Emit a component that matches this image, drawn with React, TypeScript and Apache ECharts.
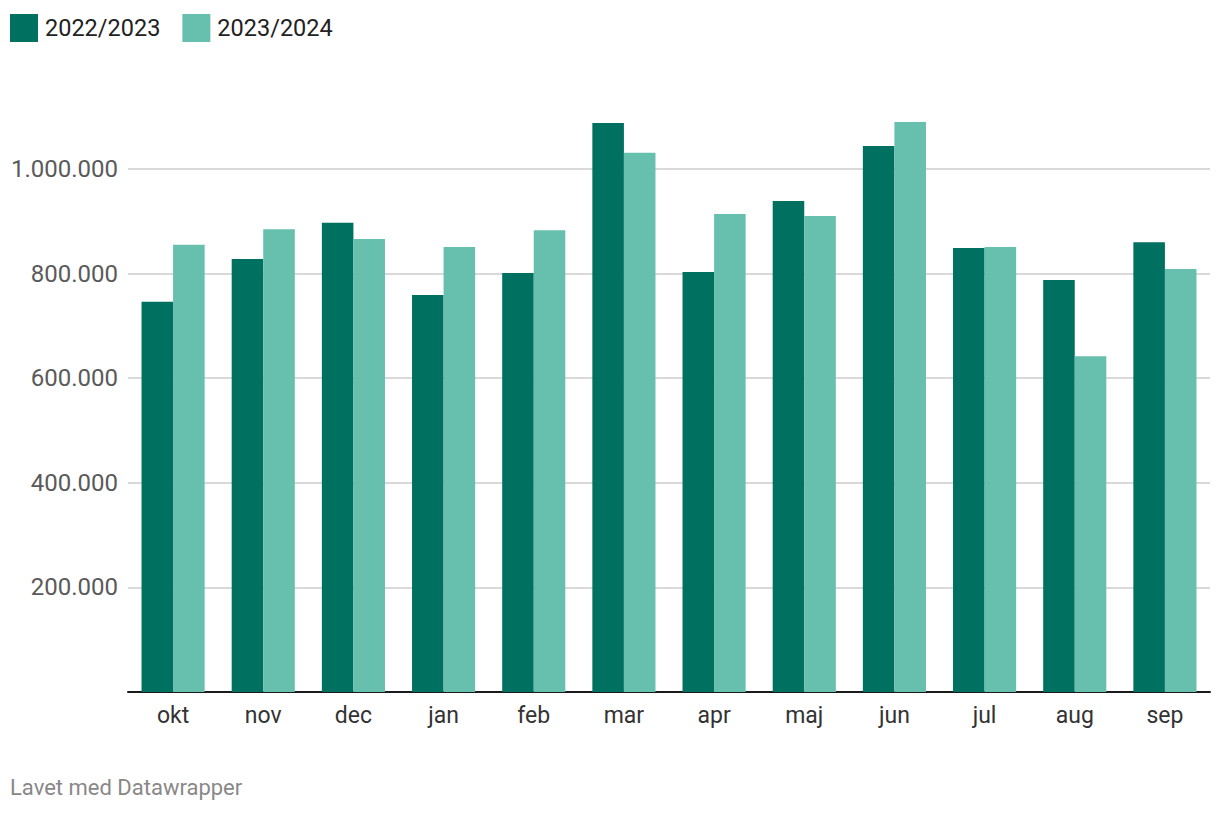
import React, { useEffect, useRef } from "react";
import * as echarts from "echarts";

const categories = ["okt", "nov", "dec", "jan", "feb", "mar", "apr", "maj", "jun", "jul", "aug", "sep"];
const series2022 = [746000, 828000, 897000, 759000, 801000, 1088000, 803000, 939000, 1044000, 849000, 788000, 860000];
const series2023 = [855000, 885000, 866000, 851000, 883000, 1031000, 914000, 910000, 1090000, 851000, 642000, 809000];
const seriesNames = ["2022/2023", "2023/2024"];
const footerText = "Lavet med Datawrapper";

const fmt = (v: number) => String(Math.round(v)).replace(/\B(?=(\d{3})+(?!\d))/g, ".");

export default function App() {
  const ref = useRef<HTMLDivElement>(null);
  useEffect(() => {
    document.body.style.margin = "0";
    const chart = echarts.init(ref.current!, undefined, { renderer: "svg" });
    const font = "Roboto";
    chart.setOption({
      animation: false,
      textStyle: { fontFamily: font },
      legend: {
        left: 10,
        top: 14,
        padding: 0,
        icon: "rect",
        itemWidth: 28,
        itemHeight: 28,
        itemGap: 22,
        data: seriesNames,
        textStyle: { fontFamily: font, fontSize: 23.5, color: "#222", padding: [0, 0, 0, 2] },
      },
      grid: { left: 128, right: 10, top: 116.7, bottom: 122, containLabel: false },
      xAxis: {
        type: "category",
        data: categories,
        axisLine: { lineStyle: { color: "#1a1a1a", width: 2 } },
        axisTick: { show: false },
        axisLabel: { fontFamily: font, fontSize: 23, color: "#333", margin: 12 },
      },
      yAxis: {
        type: "value",
        min: 0,
        max: 1100000,
        interval: 200000,
        axisLine: { show: false },
        axisTick: { show: false },
        axisLabel: {
          fontFamily: font,
          fontSize: 24,
          color: "#5a5a5a",
          margin: 10,
          formatter: (v: number) => (v === 0 || v % 200000 !== 0 ? "" : fmt(v)),
        },
        splitLine: {
          lineStyle: {
            width: 2,
            color: ["#d9d9d9", "#d9d9d9", "#d9d9d9", "#d9d9d9", "#d9d9d9", "#d9d9d9", "rgba(0,0,0,0)"],
          },
        },
      },
      series: [
        {
          name: seriesNames[0],
          type: "bar",
          data: series2022,
          itemStyle: { color: "#007060" },
          barGap: "0%",
          barCategoryGap: "30%",
        },
        {
          name: seriesNames[1],
          type: "bar",
          data: series2023,
          itemStyle: { color: "#67bfad" },
          barGap: "0%",
          barCategoryGap: "30%",
        },
      ],
      graphic: [
        {
          type: "text",
          left: 10,
          top: 776,
          style: { text: footerText, fontFamily: font, fontSize: 22, fill: "#888" },
        },
      ],
    });
    return () => chart.dispose();
  }, []);
  return <div ref={ref} style={{ width: 1220, height: 814 }} />;
}
